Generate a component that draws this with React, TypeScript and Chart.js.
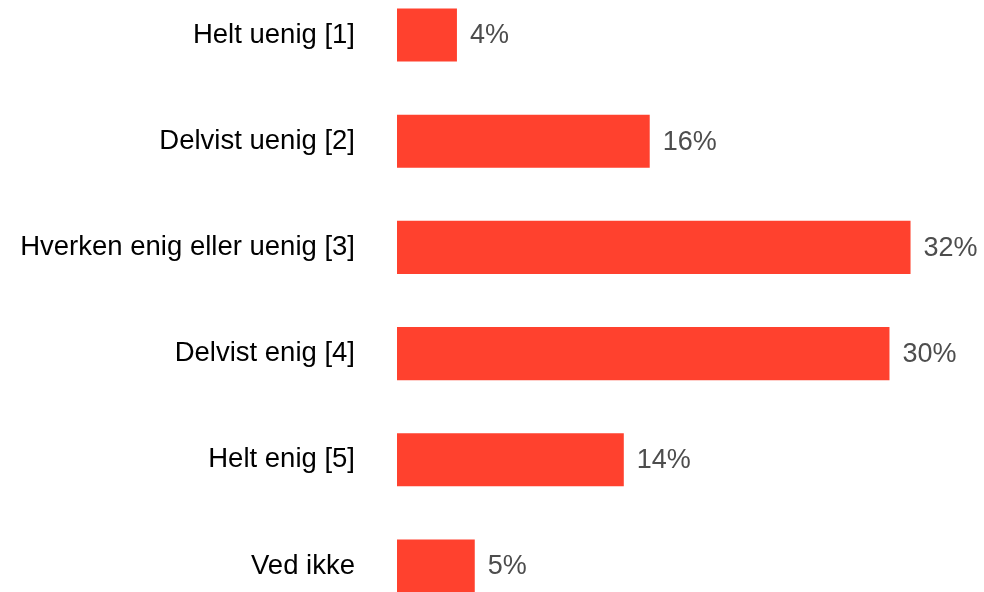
import React, { useEffect, useRef } from "react";
import { Chart, registerables } from "chart.js";

Chart.register(...registerables);

const categories = [
  "Helt uenig [1]",
  "Delvist uenig [2]",
  "Hverken enig eller uenig [3]",
  "Delvist enig [4]",
  "Helt enig [5]",
  "Ved ikke",
];
const values = [3.7, 15.6, 31.7, 30.4, 14.0, 4.8];
const valueLabels = ["4%", "16%", "32%", "30%", "14%", "5%"];

const FONT = "'Liberation Sans', Arial, sans-serif";

const valueLabelPlugin = {
  id: "valueLabels",
  afterDatasetsDraw(chart: any) {
    const ctx = chart.ctx;
    const meta = chart.getDatasetMeta(0);
    ctx.save();
    ctx.font = `27px ${FONT}`;
    ctx.fillStyle = "#4d4d4d";
    ctx.textAlign = "left";
    ctx.textBaseline = "middle";
    meta.data.forEach((bar: any, i: number) => {
      ctx.fillText(valueLabels[i], bar.x + 13, bar.y + 1);
    });
    ctx.restore();
  },
};

export default function App() {
  const ref = useRef<HTMLCanvasElement | null>(null);
  useEffect(() => {
    document.body.style.margin = "0";
    const chart = new Chart(ref.current!, {
      type: "bar",
      data: {
        labels: categories,
        datasets: [
          {
            data: values,
            backgroundColor: "#FF412E",
            borderWidth: 0,
            barPercentage: 1,
            categoryPercentage: 0.5,
            clip: false as any,
          },
        ],
      },
      options: {
        indexAxis: "y",
        animation: false,
        responsive: false,
        layout: { padding: { top: 35, bottom: 26, left: 0, right: 20 } },
        plugins: { legend: { display: false }, tooltip: { enabled: false } },
        scales: {
          x: { display: false, min: 0, max: 35 },
          y: {
            offset: false,
            grid: { display: false, drawTicks: false },
            border: { display: false },
            afterFit: (scale: any) => {
              scale.width = 397;
              scale.paddingTop = 0;
              scale.paddingBottom = 0;
            },
            ticks: {
              color: "#000000",
              padding: 42,
              font: { size: 27.5, family: FONT, lineHeight: 0.05 },
            },
          },
        },
      },
      plugins: [valueLabelPlugin],
    });
    return () => chart.destroy();
  }, []);
  return (
    <div style={{ position: "relative", width: 984, height: 592 }}>
      <canvas ref={ref} width={984} height={592} style={{ display: "block" }} />
    </div>
  );
}
